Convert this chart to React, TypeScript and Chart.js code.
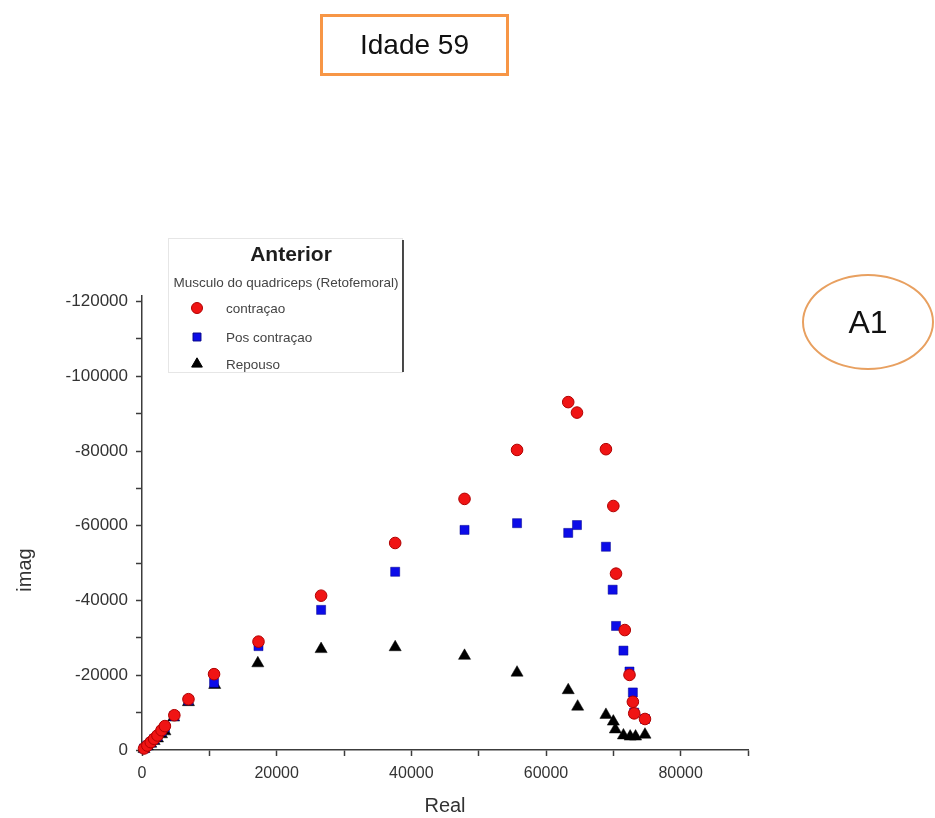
import React, { useEffect, useRef } from 'react';
import { Chart, registerables } from 'chart.js';

Chart.register(...registerables);

const FONT = "'Liberation Sans', Arial, Helvetica, sans-serif";

// contraçao (red circles)
const contracaoReal = [300, 800, 1300, 1800, 2300, 2900, 3400, 4800, 6900, 10700, 17300, 26600, 37600, 47900, 55700, 63300, 64600, 68900, 70000, 70400, 71700, 72400, 72900, 73100, 74700];
const contracaoImag = [-400, -1200, -2100, -3000, -3900, -5300, -6400, -9300, -13600, -20300, -29000, -41300, -55400, -67200, -80300, -93100, -90300, -80500, -65300, -47200, -32100, -20100, -12900, -9800, -8300];

// Pos contraçao (blue squares)
const posReal = [300, 800, 1300, 1800, 2300, 2900, 3400, 4800, 6900, 10700, 17300, 26600, 37600, 47900, 55700, 63300, 64600, 68900, 69900, 70400, 71500, 72400, 72900, 73100, 74700];
const posImag = [-400, -1200, -2000, -2900, -3700, -5000, -6100, -9100, -13300, -18000, -27800, -37500, -47700, -58900, -60700, -58100, -60200, -54400, -42900, -33200, -26600, -21000, -15400, -10000, -8300];

// Repouso (black triangles)
const repousoReal = [300, 800, 1300, 1800, 2300, 2900, 3400, 4700, 6900, 10800, 17200, 26600, 37600, 47900, 55700, 63300, 64700, 68900, 70000, 70300, 71500, 72500, 73300, 74700];
const repousoImag = [-300, -1000, -1700, -2400, -3100, -4200, -5000, -8700, -12800, -17400, -23200, -27000, -27500, -25200, -20700, -16000, -11600, -9400, -7600, -5500, -3900, -3600, -3600, -4100];

// axis ticks (major ones carry labels)
const xTicks = [0, 10000, 20000, 30000, 40000, 50000, 60000, 70000, 80000, 90000];
const xTickLabels = ['0', '', '20000', '', '40000', '', '60000', '', '80000', ''];
const yTicks = [-120000, -110000, -100000, -90000, -80000, -70000, -60000, -50000, -40000, -30000, -20000, -10000, 0];
const yTickLabels = ['-120000', '', '-100000', '', '-80000', '', '-60000', '', '-40000', '', '-20000', '', '0'];

const seriesLabels = ['contraçao', 'Pos contraçao', 'Repouso'];
const legendTitle = 'Anterior';
const legendSubtitle = 'Musculo do quadriceps (Retofemoral)';
const xTitle = 'Real';
const yTitle = 'imag';
const headerText = 'Idade 59';
const badgeText = 'A1';

const toXY = (xs: number[], ys: number[]) => xs.map((x, i) => ({ x, y: ys[i] }));

function drawMarker(ctx: CanvasRenderingContext2D, style: string, x: number, y: number, r: number, fill: string, stroke: string) {
  ctx.beginPath();
  if (style === 'circle') {
    ctx.arc(x, y, r, 0, Math.PI * 2);
  } else if (style === 'rect') {
    const s = Math.SQRT1_2 * r;
    ctx.rect(x - s, y - s, 2 * s, 2 * s);
  } else {
    ctx.moveTo(x, y - r);
    ctx.lineTo(x + Math.sin((2 * Math.PI) / 3) * r, y - Math.cos((2 * Math.PI) / 3) * r);
    ctx.lineTo(x + Math.sin((4 * Math.PI) / 3) * r, y - Math.cos((4 * Math.PI) / 3) * r);
    ctx.closePath();
  }
  ctx.fillStyle = fill;
  ctx.fill();
  ctx.strokeStyle = stroke;
  ctx.lineWidth = 1;
  ctx.stroke();
}

export default function App() {
  const ref = useRef<HTMLCanvasElement>(null);

  useEffect(() => {
    if (!ref.current) return;

    const overlayPlugin = {
      id: 'originOverlay',
      afterDraw(chart: any) {
        const ctx: CanvasRenderingContext2D = chart.ctx;
        ctx.save();
        // y axis title
        ctx.translate(25, 570);
        ctx.rotate(-Math.PI / 2);
        ctx.fillStyle = '#333';
        ctx.font = `20px ${FONT}`;
        ctx.textAlign = 'center';
        ctx.textBaseline = 'middle';
        ctx.fillText(yTitle, 0, 0);
        ctx.restore();

        // legend box
        ctx.save();
        ctx.strokeStyle = '#e6e6e6';
        ctx.lineWidth = 1;
        ctx.strokeRect(168.5, 238.5, 234, 134);
        ctx.beginPath();
        ctx.moveTo(403, 240);
        ctx.lineTo(403, 372);
        ctx.strokeStyle = '#111';
        ctx.lineWidth = 1.5;
        ctx.stroke();

        ctx.fillStyle = '#1e1e1e';
        ctx.font = `bold 21px ${FONT}`;
        ctx.textAlign = 'center';
        ctx.textBaseline = 'middle';
        ctx.fillText(legendTitle, 291, 255);

        ctx.fillStyle = '#444';
        ctx.font = `13.5px ${FONT}`;
        ctx.fillText(legendSubtitle, 286, 283);

        const rows = [308, 337, 364];
        chart.data.datasets.forEach((ds: any, i: number) => {
          drawMarker(ctx, ds.pointStyle, 197, rows[i], ds.legendRadius, ds.backgroundColor, ds.borderColor);
          ctx.fillStyle = '#444';
          ctx.font = `13.5px ${FONT}`;
          ctx.textAlign = 'left';
          ctx.textBaseline = 'middle';
          ctx.fillText(ds.label, 226, rows[i] + 1);
        });
        ctx.restore();
      },
    };

    const chart = new Chart(ref.current, {
      type: 'scatter',
      data: {
        datasets: [
          {
            label: seriesLabels[0],
            data: toXY(contracaoReal, contracaoImag),
            pointStyle: 'circle',
            pointRadius: 5.8,
            backgroundColor: '#f01414',
            borderColor: '#b00000',
            borderWidth: 1,
            clip: false,
            legendRadius: 5.5,
          } as any,
          {
            label: seriesLabels[1],
            data: toXY(posReal, posImag),
            pointStyle: 'rect',
            pointRadius: 6.4,
            backgroundColor: '#0c0ce8',
            borderColor: '#00008a',
            borderWidth: 0.5,
            clip: false,
            legendRadius: 5.6,
          } as any,
          {
            label: seriesLabels[2],
            data: toXY(repousoReal, repousoImag),
            pointStyle: 'triangle',
            pointRadius: 7,
            backgroundColor: '#000',
            borderColor: '#000',
            borderWidth: 0.5,
            clip: false,
            legendRadius: 6.2,
          } as any,
        ],
      },
      options: {
        animation: false,
        responsive: false,
        devicePixelRatio: 1,
        events: [],
        layout: { padding: { top: 296, right: 187, left: 0, bottom: 0 } },
        plugins: {
          legend: { display: false },
          tooltip: { enabled: false },
        },
        scales: {
          x: {
            type: 'linear',
            position: 'bottom',
            min: 0,
            max: 90000,
            afterBuildTicks: (s: any) => {
              s.ticks = xTicks.map((v) => ({ value: v }));
            },
            afterFit: (s: any) => {
              s.height = 68;
            },
            border: { display: true, color: '#3c3c3c', width: 1.5 },
            grid: { drawOnChartArea: false, drawTicks: true, tickLength: 6, tickColor: '#3c3c3c', tickWidth: 1.5 },
            ticks: {
              autoSkip: false,
              maxRotation: 0,
              padding: 8,
              color: '#333',
              font: { size: 16, family: FONT },
              callback: (_v: any, i: number) => xTickLabels[i] ?? '',
            },
            title: {
              display: true,
              text: xTitle,
              color: '#333',
              font: { size: 20, family: FONT },
              padding: { top: 0, bottom: 0 },
            },
          },
          y: {
            type: 'linear',
            reverse: true,
            min: -121500,
            max: 0,
            afterBuildTicks: (s: any) => {
              s.ticks = yTicks.map((v) => ({ value: v }));
            },
            afterFit: (s: any) => {
              s.width = 142;
            },
            border: { display: true, color: '#3c3c3c', width: 1.5 },
            grid: { drawOnChartArea: false, drawTicks: true, tickLength: 6, tickColor: '#3c3c3c', tickWidth: 1.5 },
            ticks: {
              autoSkip: false,
              padding: 8,
              color: '#333',
              font: { size: 17, family: FONT },
              callback: (_v: any, i: number) => yTickLabels[i] ?? '',
            },
            title: { display: false },
          },
        },
      },
      plugins: [overlayPlugin],
    } as any);

    return () => chart.destroy();
  }, []);

  return (
    <div style={{ position: 'absolute', left: 0, top: 0, width: 935, height: 818, background: '#fff', overflow: 'hidden', fontFamily: FONT }}>
      <canvas ref={ref} width={935} height={818} style={{ position: 'absolute', left: 0, top: 0, width: 935, height: 818 }} />
      <div
        style={{
          position: 'absolute',
          left: 320,
          top: 14,
          width: 189,
          height: 62,
          boxSizing: 'border-box',
          border: '3px solid #f79646',
          display: 'flex',
          alignItems: 'center',
          justifyContent: 'center',
          fontSize: 28,
          color: '#111',
        }}
      >
        {headerText}
      </div>
      <div
        style={{
          position: 'absolute',
          left: 802,
          top: 274,
          width: 132,
          height: 96,
          boxSizing: 'border-box',
          border: '2px solid #e8a060',
          borderRadius: '50%',
          display: 'flex',
          alignItems: 'center',
          justifyContent: 'center',
          fontSize: 32,
          color: '#111',
        }}
      >
        {badgeText}
      </div>
    </div>
  );
}
